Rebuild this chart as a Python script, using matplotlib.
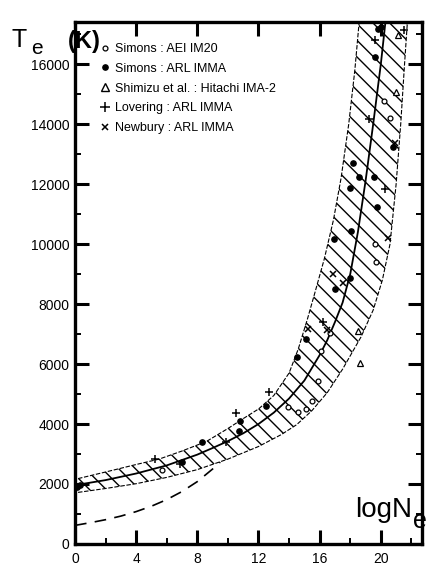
import numpy as np
import matplotlib
matplotlib.use("Agg")
import matplotlib.pyplot as plt
from matplotlib.lines import Line2D
from matplotlib.ticker import MultipleLocator

plt.rcParams['font.family'] = ['Liberation Sans', 'DejaVu Sans']
plt.rcParams['hatch.linewidth'] = 1.0

#==================================================================================================================
# data (log Ne, Te in K)

curve_logne = [0, 2, 4, 6, 8, 9, 10, 11, 12, 13, 14, 15, 16, 16.5, 17, 17.5, 18, 18.5, 19, 19.5, 20, 20.3, 20.5]
curve_te = [1960, 2130, 2350, 2620, 2980, 3200, 3430, 3690, 4000, 4380, 4850, 5450, 6300, 6800, 7400, 8050,
            9000, 10400, 12100, 14000, 16000, 17400, 18500]

upper_logne = [0.2, 2, 4, 5.5, 7, 8.6, 10, 11, 12, 13, 14, 14.6, 15.2, 15.7, 16.3, 16.9, 17.4, 17.9, 18.3, 18.6, 18.8]
upper_te = [2180, 2400, 2650, 2830, 3100, 3420, 3850, 4180, 4500, 4950, 5700, 6500, 7500, 8400, 9500, 10800,
            12200, 14000, 15800, 17500, 18500]

lower_logne = [0.2, 2, 4, 6, 8, 10, 12, 13.5, 14.5, 15.5, 16.5, 17.5, 18.7, 19.5, 20.1, 20.6, 21.0, 21.3, 21.55,
               21.75, 21.85]
lower_te = [1720, 1850, 2010, 2220, 2480, 2830, 3250, 3650, 3980, 4450, 5050, 5830, 6900, 7800, 8800, 10000,
            12000, 14000, 16000, 17500, 18500]

dashed_logne = [0, 1, 2, 3, 4, 5, 6, 7, 8, 9, 9.5]
dashed_te = [620, 710, 810, 930, 1080, 1260, 1480, 1750, 2080, 2500, 2730]

# Simons : AEI IM20
aei_logne = [5.66, 13.9, 14.57, 15.13, 15.5, 15.9, 16.06, 16.66, 19.65, 19.7, 20.2, 20.6]
aei_te = [2480, 4580, 4400, 4500, 4770, 5420, 6420, 7020, 10000, 9390, 14770, 14200]

# Simons : ARL IMMA
arl_logne = [0.3, 0.15, 7.0, 8.3, 10.75, 10.8, 12.5, 14.5, 15.1, 17.0, 18.0, 16.94, 18.05, 17.96, 18.15, 18.54,
             19.54, 19.76, 20.8, 19.65, 19.84, 20.0]
arl_te = [1950, 1900, 2730, 3390, 3780, 4110, 4610, 6230, 6830, 8500, 8870, 10180, 10430, 11870, 12700, 12250,
          12230, 11220, 13250, 16230, 17160, 17250]

# Shimizu et al. : Hitachi IMA-2
ima_logne = [18.65, 18.53, 21.0, 21.1]
ima_te = [6030, 7085, 15080, 16970]

# Lovering : ARL IMMA
lov_logne = [5.25, 6.88, 9.9, 10.53, 12.66, 16.2, 19.25, 20.25, 19.6, 21.5]
lov_te = [2830, 2680, 3390, 4370, 5070, 7400, 14180, 11820, 16800, 17150]

# Newbury : ARL IMMA
new_logne = [15.25, 16.45, 16.84, 17.5, 20.44, 20.94]
new_te = [7160, 7130, 9013, 8700, 10210, 13360]

legend_labels = ["Simons : AEI IM20", "Simons : ARL IMMA", "Shimizu et al. : Hitachi IMA-2",
                 "Lovering : ARL IMMA", "Newbury : ARL IMMA"]

#==================================================================================================================

fig = plt.figure(figsize=(4.35, 5.66), dpi=100)
ax = fig.add_axes([0.1724, 0.0389, 0.798, 0.922])

# hatched band
band_x = np.concatenate([upper_logne, lower_logne[::-1]])
band_y = np.concatenate([upper_te, lower_te[::-1]])
ax.fill(band_x, band_y, facecolor='none', edgecolor='black', hatch='\\\\', linewidth=0)
ax.plot(upper_logne, upper_te, color='black', lw=0.8, ls=(0, (4, 1.5)))
ax.plot(lower_logne, lower_te, color='black', lw=0.8, ls=(0, (4, 1.5)))

ax.plot(curve_logne, curve_te, color='black', lw=1.3)
ax.plot(dashed_logne, dashed_te, color='black', lw=1.2, ls=(0, (7, 5)))

ax.plot(aei_logne, aei_te, ls='none', marker='o', ms=3.5, mfc='white', mec='black', mew=0.9)
ax.plot(arl_logne, arl_te, ls='none', marker='o', ms=3.8, color='black')
ax.plot(ima_logne, ima_te, ls='none', marker='^', ms=5, mfc='white', mec='black', mew=0.9)
ax.plot(lov_logne, lov_te, ls='none', marker='+', ms=5.5, color='black', mew=1.1)
ax.plot(new_logne, new_te, ls='none', marker='x', ms=4.5, color='black', mew=1.1)

ax.set_xlim(0, 22.7)
ax.set_ylim(0, 17400)

ax.xaxis.set_minor_locator(MultipleLocator(2))
ax.yaxis.set_minor_locator(MultipleLocator(1000))
ax.set_xticks(range(0, 21, 4))
ax.set_yticks(range(0, 16001, 2000))

for sp in ax.spines.values():
    sp.set_linewidth(2.4)

ax.tick_params(which='major', direction='in', length=10, width=2.2, top=True, right=True, labelsize=10, pad=4)
ax.tick_params(which='minor', direction='in', length=4, width=1.4, top=False, right=True)
ax.tick_params(axis='x', which='major', pad=6)

# legend
handles = [
    Line2D([], [], ls='none', marker='o', ms=3.5, mfc='white', mec='black', mew=0.9),
    Line2D([], [], ls='none', marker='o', ms=3.8, color='black'),
    Line2D([], [], ls='none', marker='^', ms=5.5, mfc='white', mec='black', mew=1.0),
    Line2D([], [], ls='none', marker='+', ms=7, color='black', mew=1.1),
    Line2D([], [], ls='none', marker='x', ms=5, color='black', mew=1.1),
]
ax.legend(handles, legend_labels, loc='upper left', bbox_to_anchor=(0.075, 0.96), frameon=False, fontsize=9,
          handlelength=0.7, handletextpad=0.45, labelspacing=0.62, borderaxespad=0, borderpad=0)

# axis labels
fig.text(12 / 435, 1 - 47 / 566, 'T', fontsize=18, va='baseline')
fig.text(31 / 435, 1 - 54 / 566, 'e', fontsize=15, va='baseline')
fig.text(68 / 435, 1 - 48 / 566, '(K)', fontsize=17, fontweight='bold', va='baseline')
fig.text(355 / 435, 1 - 517 / 566, 'logN', fontsize=20, va='baseline')
fig.text(413 / 435, 1 - 528 / 566, 'e', fontsize=18, va='baseline')

fig.savefig('out.png', dpi=100)
